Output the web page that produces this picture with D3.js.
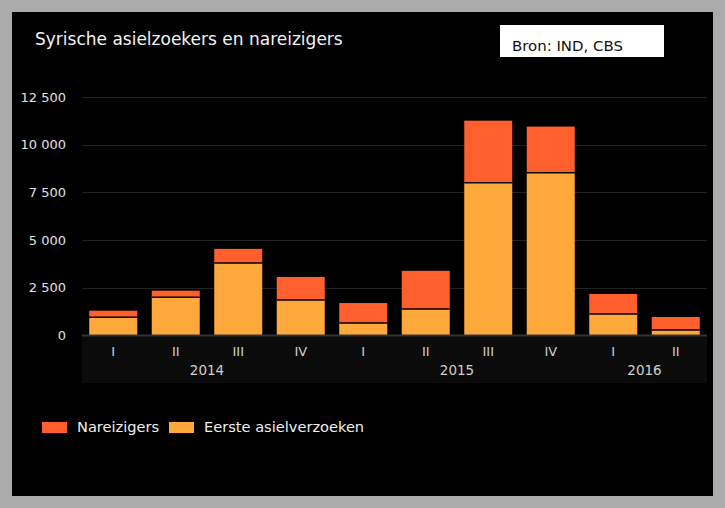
<!DOCTYPE html>
<html><head><meta charset="utf-8">
<script src="https://cdn.jsdelivr.net/npm/d3@7"></script>
<style>
html,body{margin:0;padding:0;background:#ababab;}
svg{display:block;}
text{font-family:"DejaVu Sans",Verdana,sans-serif;}
</style></head>
<body>
<svg id="c" width="725" height="508"></svg>
<script>
const quarters = ["I","II","III","IV","I","II","III","IV","I","II"];
const years = ["2014","2014","2014","2014","2015","2015","2015","2015","2016","2016"];
const eerste = [950, 2000, 3800, 1860, 650, 1390, 8000, 8530, 1130, 290];
const nareizigers = [350, 350, 740, 1210, 1050, 2000, 3260, 2420, 1050, 680];
const yTicks = [0, 2500, 5000, 7500, 10000, 12500];
const seriesNames = ["Nareizigers", "Eerste asielverzoeken"];
const colors = {"Nareizigers": "#ff5f2d", "Eerste asielverzoeken": "#ffa93d"};

const svg = d3.select("#c");
svg.append("rect").attr("x",0).attr("y",0).attr("width",725).attr("height",508).attr("fill","#ababab");
svg.append("rect").attr("x",12).attr("y",12).attr("width",701).attr("height",484).attr("fill","#000");

function fitText(sel, w){ const n=sel.node(); const l=n.getComputedTextLength(); const fs=parseFloat(sel.attr("font-size")); sel.attr("font-size", fs*w/l); }
const title = svg.append("text").attr("x",35).attr("y",45).attr("fill","#f2f2f2").attr("font-size",17).text("Syrische asielzoekers en nareizigers");
fitText(title, 308);

svg.append("rect").attr("x",500).attr("y",25).attr("width",164).attr("height",32).attr("fill","#fff");
const bron = svg.append("text").attr("x",512).attr("y",51).attr("fill","#111").attr("font-size",14).text("Bron: IND, CBS");
fitText(bron, 111);

const idx = d3.range(quarters.length);
const x = d3.scaleBand().domain(idx).range([82,707]).paddingInner(0.232).paddingOuter(0.116);
const y = d3.scaleLinear().domain([0,12500]).range([335.5,97]);

svg.append("g").selectAll("line").data(yTicks.filter(d=>d>0)).join("line")
  .attr("x1",82).attr("x2",707).attr("y1",d=>Math.round(y(d))+0.5).attr("y2",d=>Math.round(y(d))+0.5)
  .attr("stroke","#222").attr("stroke-width",1);

const fmt = d => d3.format(",")(d).replace(/,/g," ");
const yAxis = svg.append("g").attr("transform","translate(66,0)")
  .call(d3.axisLeft(y).tickValues(yTicks).tickFormat(fmt).tickSize(0).tickPadding(0));
yAxis.select(".domain").remove();
yAxis.selectAll("text").attr("fill","#e0e0e0").attr("font-size",13).attr("font-family","DejaVu Sans, sans-serif");

svg.append("rect").attr("x",82).attr("y",336).attr("width",625).attr("height",47).attr("fill","#0b0b0b");

const rows = idx.map(i => ({i, "Eerste asielverzoeken": eerste[i], "Nareizigers": nareizigers[i]}));
const stack = d3.stack().keys(["Eerste asielverzoeken","Nareizigers"])(rows);
svg.append("g").selectAll("g").data(stack).join("g")
  .attr("fill", d => colors[d.key])
  .selectAll("rect").data(d=>d).join("rect")
  .attr("x", d => x(d.data.i)).attr("width", x.bandwidth())
  .attr("y", d => y(d[1])).attr("height", d => y(d[0]) - y(d[1]));
svg.append("g").selectAll("line").data(idx).join("line")
  .attr("x1", i=>x(i)).attr("x2", i=>x(i)+x.bandwidth())
  .attr("y1", i=>y(eerste[i])).attr("y2", i=>y(eerste[i]))
  .attr("stroke","#000").attr("stroke-width",1.5);

svg.append("line").attr("x1",82).attr("x2",707).attr("y1",335.5).attr("y2",335.5).attr("stroke","#333").attr("stroke-width",2);

const xAxis = svg.append("g").attr("transform","translate(0,343)")
  .call(d3.axisBottom(x).tickFormat(i=>quarters[i]).tickSize(0).tickPadding(4));
xAxis.select(".domain").remove();
xAxis.selectAll("text").attr("fill","#d0d0d0").attr("font-size",13).attr("font-family","DejaVu Sans, sans-serif");

const yearGroups = d3.groups(idx, i=>years[i]);
svg.append("g").selectAll("text").data(yearGroups).join("text")
  .attr("x", d => (x(d[1][0]) + x(d[1][d[1].length-1]) + x.bandwidth())/2)
  .attr("y", 375).attr("text-anchor","middle").attr("fill","#d0d0d0").attr("font-size",13.5)
  .text(d=>d[0]);

const legX = [42, 169];
const lg = svg.append("g").selectAll("g").data(seriesNames).join("g")
  .attr("transform",(d,i)=>`translate(${legX[i]},0)`);
lg.append("rect").attr("x",0).attr("y",422).attr("width",25).attr("height",11).attr("fill",d=>colors[d]);
lg.append("text").attr("x",35).attr("y",432).attr("fill","#eee").attr("font-size",14.6).text(d=>d);
</script>
</body></html>
